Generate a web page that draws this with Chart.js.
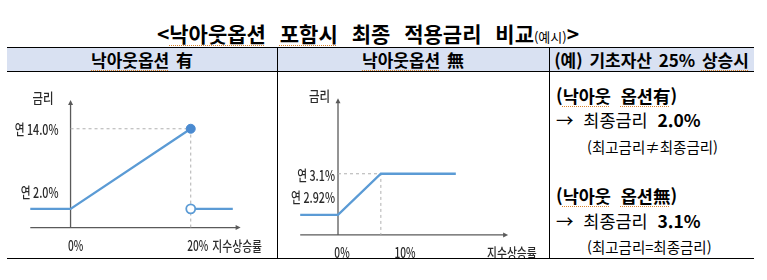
<!DOCTYPE html>
<html lang="ko">
<head>
<meta charset="utf-8">
<script src="https://cdn.jsdelivr.net/npm/chart.js@4.4.1/dist/chart.umd.min.js"></script>
<style>
  html, body { margin:0; padding:0; background:#fff; }
  body { width:767px; height:280px; position:relative; overflow:hidden;
         font-family:"Noto Sans CJK KR","Noto Sans",sans-serif; color:#000; }
  .abs { position:absolute; }
  .title { left:0; width:736px; top:21px; text-align:center; font-size:21px; font-weight:700;
           line-height:24px; word-spacing:8px; white-space:nowrap; }
  .title small { font-size:13px; font-weight:400; word-spacing:0; }
  .sp { text-decoration: underline dotted #d9822b; text-underline-offset:3px; text-decoration-thickness:1px; }
  .band { left:7px; width:747px; top:47px; height:25px; background:#d9e1f2;
          border-top:1.5px solid #000; border-bottom:1px solid #000; box-sizing:border-box; }
  .hline { left:7px; width:747px; height:0; border-top:1.5px solid #000; }
  .vline { width:0; border-left:1px solid #000; }
  .hdr { top:47px; height:25px; line-height:25px; text-align:center; font-size:17px; font-weight:700;
         white-space:nowrap; word-spacing:2px; }
  .rt { left:556px; white-space:nowrap; line-height:20px; }
  .b { font-weight:700; font-size:17.5px; }
  .n { font-size:17.5px; }
  .s { font-size:14.5px; }
  canvas { position:absolute; }
</style>
</head>
<body>
<div class="abs title">&lt;<span class="sp">낙아웃옵션</span> <span class="sp">포함시</span> 최종 적용금리 비교<small>(예시)</small>&gt;</div>
<div class="abs band"></div>
<div class="abs hdr" style="left:7px;width:270px;"><span class="sp">낙아웃옵션</span> 有</div>
<div class="abs hdr" style="left:277px;width:272px;"><span class="sp">낙아웃옵션</span> 無</div>
<div class="abs hdr" style="left:549px;width:205px;">(예) 기초자산 25% <span class="sp">상승시</span></div>

<canvas id="c1" width="268" height="184" style="left:8px;top:74px;"></canvas>
<canvas id="c2" width="269" height="184" style="left:279px;top:74px;"></canvas>

<div class="abs vline" style="left:277px;top:47px;height:212px;"></div>
<div class="abs vline" style="left:549px;top:47px;height:212px;"></div>
<div class="abs hline" style="top:258px;"></div>

<div class="abs rt b" style="top:86px;">(<span class="sp">낙아웃</span>&nbsp; <span class="sp">옵션有</span>)</div>
<div class="abs rt n" style="top:110px;">→&nbsp; 최종금리&nbsp; <b>2.0%</b></div>
<div class="abs rt s" style="top:137px;left:587px;">(최고금리≠최종금리)</div>
<div class="abs rt b" style="top:186px;">(<span class="sp">낙아웃</span>&nbsp; <span class="sp">옵션無</span>)</div>
<div class="abs rt n" style="top:211px;">→&nbsp; 최종금리&nbsp; <b>3.1%</b></div>
<div class="abs rt s" style="top:237px;left:587px;">(최고금리=최종금리)</div>

<script>
// ---------- DATA ----------
// Chart 1: knock-out option (낙아웃옵션 有)
const koXTickValues = [0, 20];
const koXTickLabels = ['0%', '20%'];
const koYTickValues = [14, 2];
const koYTickLabels = ['연 14.0%', '연 2.0%'];
const koRisePath = [{x:-6.7, y:2}, {x:0, y:2}, {x:20, y:14}];
const koAfterKnockOut = [{x:20, y:2}, {x:27, y:2}];
const koGuide = [{x:0, y:14}, {x:20, y:14}, {x:20, y:-0.8}];

// Chart 2: no knock-out option (낙아웃옵션 無)
const noXTickValues = [0, 10];
const noXTickLabels = ['0%', '10%'];
const noYTickValues = [3.1, 2.92];
const noYTickLabels = ['연 3.1%', '연 2.92%'];
const noPath = [{x:-6, y:2.92}, {x:0, y:2.92}, {x:6.8, y:3.1}, {x:18.7, y:3.1}];
const noGuide = [{x:0, y:3.1}, {x:6.8, y:3.1}, {x:6.8, y:2.832}];

const yAxisTitle = '금리';
const xAxisTitle = '지수상승률';

// ---------- RENDERING ----------
const LINE = '#5b9bd5';
const GUIDE = '#b0b0b0';
const AXIS = '#5a5a5a';
const TXT = '#2a2a2a';

function condensedText(ctx, text, x, y, align, sx) {
  ctx.save();
  const w = ctx.measureText(text).width * sx;
  let left = x;
  if (align === 'right') left = x - w;
  else if (align === 'center') left = x - w / 2;
  ctx.translate(left, y);
  ctx.scale(sx, 1);
  ctx.textAlign = 'left';
  ctx.fillText(text, 0, 0);
  ctx.restore();
}

const axisPlugin = {
  id: 'arrowAxes',
  beforeDatasetsDraw(chart, args, o) {
    const ctx = chart.ctx;
    const xs = chart.scales.x, ys = chart.scales.y;
    const ax = xs.getPixelForValue(0);
    const ay = ys.getPixelForValue(o.base);
    const x0 = xs.getPixelForValue(o.xFrom), x1 = xs.getPixelForValue(o.xTo);
    const yTop = ys.getPixelForValue(o.yTop);
    ctx.save();
    ctx.strokeStyle = AXIS; ctx.fillStyle = AXIS; ctx.lineWidth = 1.3;
    ctx.beginPath(); ctx.moveTo(x0, ay); ctx.lineTo(x1 - 3, ay); ctx.stroke();
    ctx.beginPath(); ctx.moveTo(ax, ay); ctx.lineTo(ax, yTop + 3); ctx.stroke();
    ctx.beginPath(); ctx.moveTo(x1, ay); ctx.lineTo(x1 - 5, ay - 2.5); ctx.lineTo(x1 - 5, ay + 2.5); ctx.closePath(); ctx.fill();
    ctx.beginPath(); ctx.moveTo(ax, yTop); ctx.lineTo(ax - 2.5, yTop + 5); ctx.lineTo(ax + 2.5, yTop + 5); ctx.closePath(); ctx.fill();
    ctx.fillStyle = TXT;
    ctx.font = '500 14.5px "Noto Sans CJK KR"';
    ctx.textBaseline = 'middle';
    o.xTicks.forEach((v, i) => {
      condensedText(ctx, o.xLabels[i], xs.getPixelForValue(v) + o.xShift[i], ay + 18, 'center', 0.7);
    });
    o.yTicks.forEach((v, i) => {
      condensedText(ctx, o.yLabels[i], ax - o.yGap, ys.getPixelForValue(v) + o.yShift[i], 'right', 0.74);
    });
    ctx.font = '500 13.5px "Noto Sans CJK KR"';
    condensedText(ctx, yAxisTitle, ax - o.yTitleGap, yTop - 2, 'right', 0.85);
    condensedText(ctx, xAxisTitle, xs.getPixelForValue(o.xTitleAt), ay + 18, 'left', 0.8);
    ctx.restore();
  }
};

function makeChart(id, datasets, xr, yr, axisOpts) {
  return new Chart(document.getElementById(id), {
    type: 'line',
    data: { datasets },
    options: {
      responsive: false, animation: false, devicePixelRatio: 1,
      layout: { padding: 0 },
      plugins: { legend: { display: false }, tooltip: { enabled: false }, arrowAxes: axisOpts },
      scales: {
        x: { type: 'linear', min: xr[0], max: xr[1], display: false },
        y: { type: 'linear', min: yr[0], max: yr[1], display: false }
      }
    },
    plugins: [axisPlugin]
  });
}

makeChart('c1', [
  { data: koRisePath, borderColor: LINE, borderWidth: 2.3, tension: 0, fill: false,
    pointRadius: koRisePath.map((p, i) => i === koRisePath.length - 1 ? 4.5 : 0),
    pointBackgroundColor: '#4a8ad0', pointBorderColor: '#4a8ad0', pointBorderWidth: 1 },
  { data: koAfterKnockOut, borderColor: LINE, borderWidth: 2.3, tension: 0, fill: false,
    pointRadius: koAfterKnockOut.map((p, i) => i === 0 ? 4.5 : 0),
    pointBackgroundColor: '#ffffff', pointBorderColor: LINE, pointBorderWidth: 1.8 },
  { data: koGuide, borderColor: GUIDE, borderWidth: 1, borderDash: [3, 3], pointRadius: 0, tension: 0, fill: false }
], [-9.36, 33.14], [-4.42, 21.26], {
  base: -0.8, xFrom: -6.7, xTo: 28.3, yTop: 18.3,
  xTicks: koXTickValues, xLabels: koXTickLabels, xShift: [5, 7],
  yTicks: koYTickValues, yLabels: koYTickLabels, yShift: [1, -16], yGap: 12,
  yTitleGap: 17, xTitleAt: 23.6
});

makeChart('c2', [
  { data: noPath, borderColor: LINE, borderWidth: 2.3, tension: 0, fill: false, pointRadius: 0 },
  { data: noGuide, borderColor: GUIDE, borderWidth: 1, borderDash: [3, 3], pointRadius: 0, tension: 0, fill: false }
], [-9.365, 33.33], [2.731, 3.537], {
  base: 2.832, xFrom: -6, xTo: 27, yTop: 3.431,
  xTicks: noXTickValues, xLabels: noXTickLabels, xShift: [4, 4],
  yTicks: noYTickValues, yLabels: noYTickLabels, yShift: [2, -17], yGap: 3,
  yTitleGap: 8, xTitleAt: 23.65
});
</script>
</body>
</html>
